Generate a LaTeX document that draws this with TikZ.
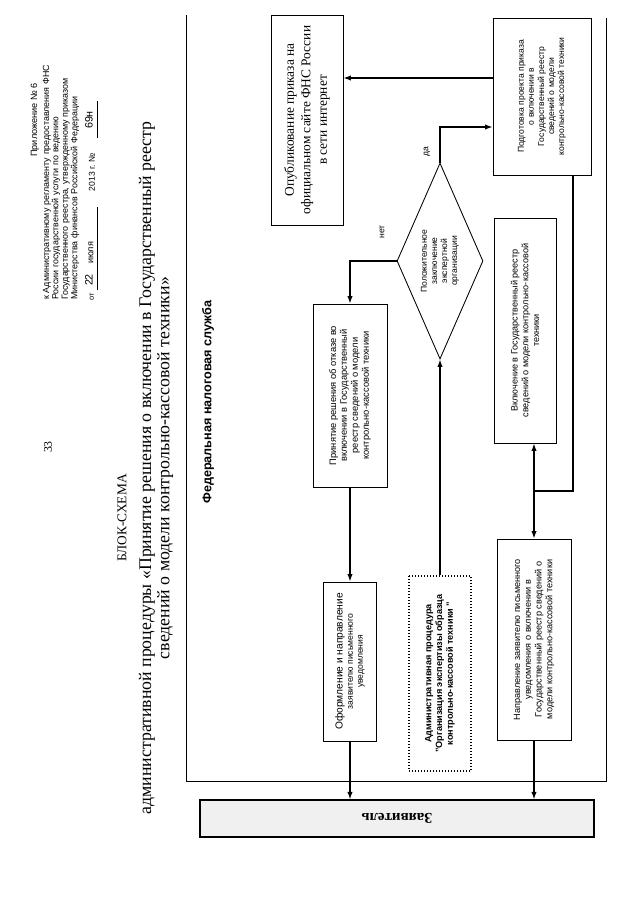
\documentclass[tikz,border=0pt]{standalone}
\usepackage{fontspec}
\setmainfont{Liberation Serif}
\setsansfont{Liberation Sans}
\usetikzlibrary{shapes.geometric,arrows.meta}

\newcommand\px{0.328mm}
\tikzset{
  box/.style={draw, rotate=90, align=center, line width=0.8pt, inner sep=1pt,
    font=\sffamily\fontsize{8}{9.4}\selectfont},
  arr/.style={-{Latex[length=7pt,width=5pt]}, line width=1.2pt},
  arrboth/.style={{Latex[length=7pt,width=5pt]}-{Latex[length=7pt,width=5pt]}, line width=1.2pt},
  lab/.style={rotate=90, font=\sffamily\fontsize{8}{9.4}\selectfont},
}

\begin{document}
\begin{tikzpicture}[x=\px, y=-\px]
\useasboundingbox (0,0) rectangle (640,905);

% header
\node[lab, font=\sffamily\fontsize{8.5}{10}\selectfont] (annex) at (35,120) {Приложение № 6};
\node[rotate=90, text width=78mm, align=left, inner sep=0pt,
  font=\sffamily\fontsize{8.3}{8.8}\selectfont] (regl) at (61,181)
  {\makebox[\linewidth][s]{к Административному регламенту предоставления ФНС}\\
   \makebox[\linewidth][s]{России государственной услуги по ведению}\\
   \makebox[\linewidth][s]{Государственного реестра, утвержденному приказом}\\
   Министерства финансов Российской Федерации};
\node[lab, font=\sffamily\fontsize{7}{8}\selectfont] (ot) at (92,297) {от};
\node[lab, font=\sffamily\fontsize{10}{12}\selectfont] (day) at (89,280) {22};
\node[lab, font=\sffamily\fontsize{8.5}{10}\selectfont] (month) at (91,253) {июля};
\node[lab] (year) at (92,172) {2013 г. №};
\node[lab, font=\sffamily\fontsize{10}{12}\selectfont] (num) at (89,120) {69н};
\draw[line width=0.4pt] (97,290) -- (97,207);
\draw[line width=0.4pt] (97,138) -- (97,101);
\node[rotate=90, font=\fontsize{11}{13}\selectfont] (page) at (48,447) {33};
\node[rotate=90, font=\fontsize{12.5}{15}\selectfont] (title) at (122,518) {БЛОК-СХЕМА};
\node[rotate=90, align=center, font=\fontsize{16.6}{17}\selectfont] (subtitle) at (156,468)
  {административной процедуры «Принятие решения о включении в Государственный реестр\\
   сведений о модели контрольно-кассовой техники»};

% frame
\draw[line width=0.6pt] (186,15) -- (186,781) -- (606,781) -- (606,18);
\node[rotate=90, font=\sffamily\bfseries\fontsize{11.8}{13}\selectfont] (fns) at (208,402) {Федеральная налоговая служба};

% boxes
\node[box, minimum width=210*\px, minimum height=72*\px, font=\fontsize{12.5}{15.5}\selectfont] (pub) at (307,120)
  {Опубликование приказа на\\ официальном сайте ФНС России\\ в сети интернет};
\node[box, minimum width=157*\px, minimum height=98*\px] (proj) at (542,96.5)
  {Подготовка проекта приказа\\ о включении в\\ Государственный реестр\\ сведений о модели\\ контрольно-кассовой техники};
\node[box, diamond, aspect=2.28, minimum width=196*\px, minimum height=86*\px, inner sep=0pt] (dec) at (440,261)
  {Положительное\\ заключение\\ экспертной\\ организации};
\node[box, minimum width=183*\px, minimum height=74*\px, font=\sffamily\fontsize{8.7}{10.2}\selectfont] (refuse) at (350,395.5)
  {Принятие решения об отказе во\\ включении в Государственный\\ реестр сведений о модели\\ контрольно-кассовой техники};
\node[box, minimum width=159*\px, minimum height=53*\px] (notify) at (350,661.5)
  {{\fontsize{9.5}{11}\selectfont Оформление и направление}\\ заявителю письменного\\ уведомления};
\node[box, dotted, line width=1pt, minimum width=195*\px, minimum height=62*\px,
  font=\sffamily\bfseries\fontsize{8.5}{10}\selectfont] (exam) at (440,673.5)
  {Административная процедура\\ "Организация экспертизы образца\\ контрольно-кассовой техники "};
\node[box, minimum width=225*\px, minimum height=62*\px, font=\sffamily\fontsize{8.5}{10}\selectfont] (incl) at (525,330.5)
  {Включение в Государственный реестр\\ сведений о модели контрольно-кассовой\\ техники};
\node[box, minimum width=201*\px, minimum height=74*\px, font=\sffamily\fontsize{8.5}{10}\selectfont] (inform) at (534,639.5)
  {Направление заявителю письменного\\ уведомления о включении в\\ Государственный реестр сведений о\\ модели контрольно-кассовой техники};
\node[draw, fill=gray!12, line width=1pt, minimum width=394*\px, minimum height=37*\px,
  font=\bfseries\fontsize{14}{16}\selectfont] (appl) at (397,818.5) {\rotatebox{180}{Заявитель}};

% connectors
\draw[arr] (proj.north |- 0,78) -- (pub.south |- 0,78);
\draw[arr] (dec.east) |- (proj.north |- 0,127);
\node[lab] (yes) at (427,152) {да};
\draw[arr] (dec.north) -| (refuse.east);
\node[lab] (no) at (382,232) {нет};
\draw[arr] (refuse.west) -- (notify.east);
\draw[arr] (notify.west) -- (notify.west |- appl.north);
\draw[arr] (exam.east) -- (dec.west);
\draw[arrboth] (inform.east |- incl.west) -- (inform.east);
\draw[line width=1.2pt] (573,0 |- proj.west) |- (inform.east |- 0,491);
\draw[arr] (inform.west) -- (inform.west |- appl.north);
\end{tikzpicture}
\end{document}
